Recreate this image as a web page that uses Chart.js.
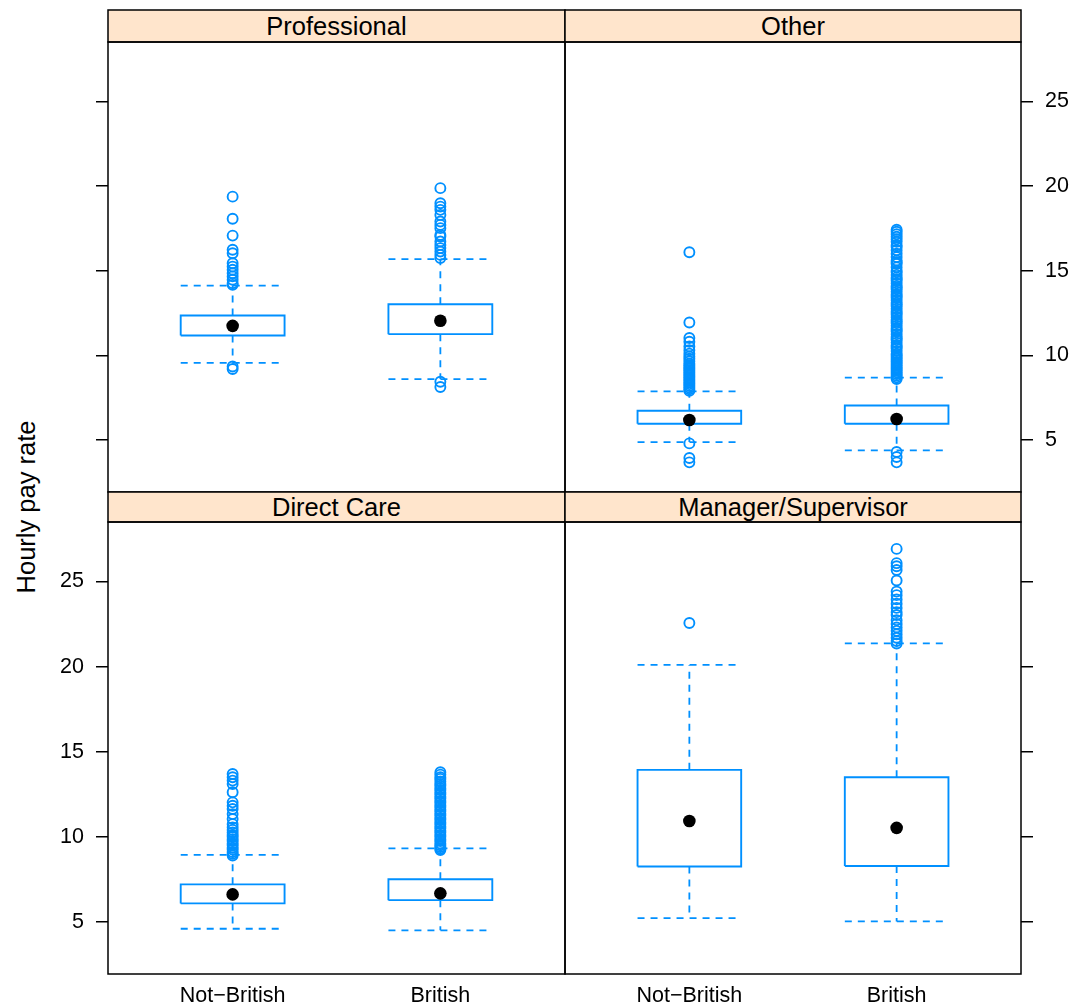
<!DOCTYPE html>
<html lang="en">
<head>
  <meta charset="UTF-8">
  <title>Hourly pay rate</title>
  <script src="https://cdn.jsdelivr.net/npm/chart.js"></script>
  <style>
    body { margin: 0; background: #fff; }
    #wrap { position: relative; width: 1074px; height: 1005px; font-family: "Liberation Sans", Arial, sans-serif; color: #000; }
    #wrap canvas { position: absolute; left: 0; top: 0; }
    .strip { position: absolute; text-align: center; background: #ffe5cc; font-size: 25.5px; }
    #ylab { position: absolute; left: 26px; top: 507px; font-size: 25.5px; white-space: nowrap;
            transform: translate(-50%, -50%) rotate(-90deg); }
  </style>
</head>
<body>
  <div id="wrap">
    <div id="ylab">Hourly pay rate</div>
  </div>
  <script>
    // panels in lattice order, groups along x
    const panelNames = ['Professional', 'Other', 'Direct Care', 'Manager/Supervisor'];
    const groupLabels = ['Not\u2212British', 'British'];
    const yTicks = [5, 10, 15, 20, 25];

    // each row: [Not-British, British]
    const whiskerLow = [[9.56, 8.6], [4.88, 4.39], [4.59, 4.5], [5.21, 5.02]];
    const q1 = [[11.17, 11.25], [5.96, 5.96], [6.08, 6.27], [8.25, 8.28]];
    const medians = [[11.74, 12.04], [6.18, 6.24], [6.61, 6.67], [10.92, 10.52]];
    const q3 = [[12.35, 13.02], [6.73, 7.04], [7.2, 7.5], [13.93, 13.5]];
    const whiskerHigh = [[14.12, 15.68], [7.87, 8.68], [8.93, 9.31], [20.1, 21.36]];

    const outliersProfessional = [
      [19.37, 18.06, 17.07, 16.23, 16.03, 15.44, 15.24, 15.05, 14.85, 14.66, 14.46, 14.26, 14.16, 9.34, 9.19],
      [19.87, 18.98, 18.78, 18.59, 18.29, 17.9, 17.7, 17.51, 17.11, 17.01, 16.72, 16.52, 16.33, 16.13, 15.93, 15.74, 8.44, 8.13]
    ];
    const outliersOther = [
      [16.09, 11.94, 11.02, 10.8, 10.52, 10.3, 10.1, 9.93, 9.8, 9.65, 9.5, 9.4, 9.3, 9.2, 9.1, 9.0, 8.9, 8.8, 8.7,
       8.6, 8.5, 8.4, 8.3, 8.2, 8.1, 8.0, 7.9, 4.8, 3.94, 3.68],
      [8.6, 8.7, 8.8, 8.9, 9.0, 9.1, 9.2, 9.3, 9.4, 9.5, 9.6, 9.7, 9.8, 9.9, 10.0, 10.1, 10.25, 10.4, 10.5, 10.6,
       10.75, 10.9, 11.0, 11.1, 11.25, 11.4, 11.5, 11.6, 11.75, 11.9, 12.0, 12.1, 12.25, 12.4, 12.5, 12.6, 12.75,
       12.9, 13.0, 13.1, 13.25, 13.4, 13.5, 13.6, 13.75, 13.9, 14.0, 14.1, 14.25, 14.4, 14.5, 14.6, 14.75, 14.9,
       15.0, 15.2, 15.4, 15.5, 15.6, 15.8, 16.0, 16.2, 16.4, 16.5, 16.7, 16.85, 17.0, 17.15, 17.3, 17.41,
       4.29, 4.0, 3.68]
    ];
    const outliersDirectCare = [
      [13.69, 13.5, 13.3, 13.1, 12.61, 12.02, 11.82, 11.63, 11.33, 11.04, 10.74, 10.55, 10.4, 10.25, 10.1, 10.0,
       9.85, 9.75, 9.6, 9.5, 9.35, 9.25, 9.1, 9.0, 8.9],
      [13.79, 13.65, 13.5, 13.4, 13.25, 13.1, 13.0, 12.85, 12.75, 12.6, 12.5, 12.35, 12.25, 12.1, 12.0, 11.85,
       11.75, 11.6, 11.5, 11.35, 11.25, 11.1, 11.0, 10.85, 10.75, 10.6, 10.5, 10.35, 10.25, 10.1, 10.0, 9.85,
       9.75, 9.6, 9.5, 9.4, 9.3, 9.22]
    ];
    const outliersManager = [
      [22.56],
      [26.92, 26.08, 25.9, 25.68, 25.06, 24.41, 24.2, 23.95, 23.7, 23.45, 23.2, 23.03, 22.73, 22.5, 22.3, 22.1,
       21.9, 21.7, 21.5, 21.36]
    ];
    const outliers = [outliersProfessional, outliersOther, outliersDirectCare, outliersManager];

    const BLUE = '#0090ff';
    const BOX_HALF = 0.25;
    const W = 1074, H = 1005;

    Chart.defaults.font.family = '"Liberation Sans", Arial, sans-serif';
    Chart.defaults.font.size = 21.5;
    Chart.defaults.color = '#000';

    // chart area of each panel on the page, and which axes carry labels
    const frames = [
      { left: 108, right: 565, top: 42, bottom: 492, strip: 32, yPos: 'left', yLabels: false, xLabels: false },
      { left: 565, right: 1021, top: 42, bottom: 492, strip: 32, yPos: 'right', yLabels: true, xLabels: false },
      { left: 108, right: 565, top: 522, bottom: 974, strip: 30, yPos: 'left', yLabels: true, xLabels: true },
      { left: 565, right: 1021, top: 522, bottom: 974, strip: 30, yPos: 'right', yLabels: false, xLabels: true }
    ];

    const framePlugin = {
      id: 'frame',
      afterDraw(chart, args, opts) {
        const { ctx, chartArea: a } = chart;
        ctx.save();
        ctx.strokeStyle = '#000';
        ctx.lineWidth = 1.5;
        ctx.strokeRect(a.left, a.top, a.right - a.left, a.bottom - a.top);
        ctx.strokeRect(a.left, a.top - opts.strip, a.right - a.left, opts.strip);
        ctx.restore();
      }
    };

    const wrap = document.getElementById('wrap');
    const Y_AXIS_W = 50, X_AXIS_H = 28;

    panelNames.forEach((name, p) => {
      const f = frames[p];

      const strip = document.createElement('div');
      strip.className = 'strip';
      strip.style.left = f.left + 'px';
      strip.style.top = (f.top - f.strip) + 'px';
      strip.style.width = (f.right - f.left) + 'px';
      strip.style.height = f.strip + 'px';
      strip.style.lineHeight = f.strip + 'px';
      strip.textContent = name;
      wrap.appendChild(strip);

      const canvas = document.createElement('canvas');
      canvas.width = W;
      canvas.height = H;
      wrap.appendChild(canvas);

      const boxPts = [], whiskerPts = [], medianPts = [], outPts = [];
      groupLabels.forEach((g, i) => {
        const x = i + 1;
        boxPts.push({ x: x - BOX_HALF, y: q1[p][i] }, { x: x + BOX_HALF, y: q1[p][i] },
                    { x: x + BOX_HALF, y: q3[p][i] }, { x: x - BOX_HALF, y: q3[p][i] },
                    { x: x - BOX_HALF, y: q1[p][i] }, { x: x, y: null });
        whiskerPts.push({ x: x, y: q3[p][i] }, { x: x, y: whiskerHigh[p][i] }, { x: x, y: null },
                        { x: x, y: q1[p][i] }, { x: x, y: whiskerLow[p][i] }, { x: x, y: null },
                        { x: x - BOX_HALF, y: whiskerHigh[p][i] }, { x: x + BOX_HALF, y: whiskerHigh[p][i] }, { x: x, y: null },
                        { x: x - BOX_HALF, y: whiskerLow[p][i] }, { x: x + BOX_HALF, y: whiskerLow[p][i] }, { x: x, y: null });
        medianPts.push({ x: x, y: medians[p][i] });
        outliers[p][i].forEach(v => outPts.push({ x: x, y: v }));
      });

      const xH = f.xLabels ? X_AXIS_H : 0;
      const padding = {
        left: f.yPos === 'left' ? f.left - Y_AXIS_W : f.left,
        right: f.yPos === 'right' ? W - f.right - Y_AXIS_W : W - f.right,
        top: f.top,
        bottom: H - f.bottom - xH
      };

      new Chart(canvas, {
        type: 'scatter',
        data: {
          datasets: [
            { data: medianPts, pointRadius: 6.3, pointBackgroundColor: '#000', pointBorderWidth: 0 },
            { data: outPts, pointRadius: 5, pointBorderColor: BLUE, pointBackgroundColor: 'rgba(0,0,0,0)', pointBorderWidth: 1.9 },
            { data: boxPts, showLine: true, borderColor: BLUE, borderWidth: 1.9, pointRadius: 0, spanGaps: false, borderJoinStyle: 'miter' },
            { data: whiskerPts, showLine: true, borderColor: BLUE, borderWidth: 1.8, borderDash: [7, 6], pointRadius: 0, spanGaps: false }
          ]
        },
        options: {
          responsive: false,
          animation: false,
          events: [],
          layout: { padding: padding },
          plugins: { legend: { display: false }, tooltip: { enabled: false }, frame: { strip: f.strip } },
          scales: {
            x: {
              type: 'linear', min: 0.4, max: 2.6,
              display: f.xLabels,
              grid: { display: false, drawTicks: false },
              border: { display: false },
              afterBuildTicks: s => { s.ticks = groupLabels.map((g, i) => ({ value: i + 1 })); },
              afterFit: s => { s.height = xH; s.paddingLeft = 0; s.paddingRight = 0; },
              ticks: { autoSkip: false, maxRotation: 0, padding: 9, callback: v => groupLabels[v - 1] }
            },
            y: {
              type: 'linear', min: 1.93, max: 28.5,
              position: f.yPos,
              grid: { drawOnChartArea: false, drawTicks: true, tickLength: 12, color: '#000', lineWidth: 1.5 },
              border: { display: false },
              afterBuildTicks: s => { s.ticks = yTicks.map(v => ({ value: v })); },
              afterFit: s => { s.width = Y_AXIS_W; s.paddingTop = 0; s.paddingBottom = 0; },
              ticks: { display: f.yLabels, padding: 12, callback: v => String(v) }
            }
          }
        },
        plugins: [framePlugin]
      });
    });
  </script>
</body>
</html>
